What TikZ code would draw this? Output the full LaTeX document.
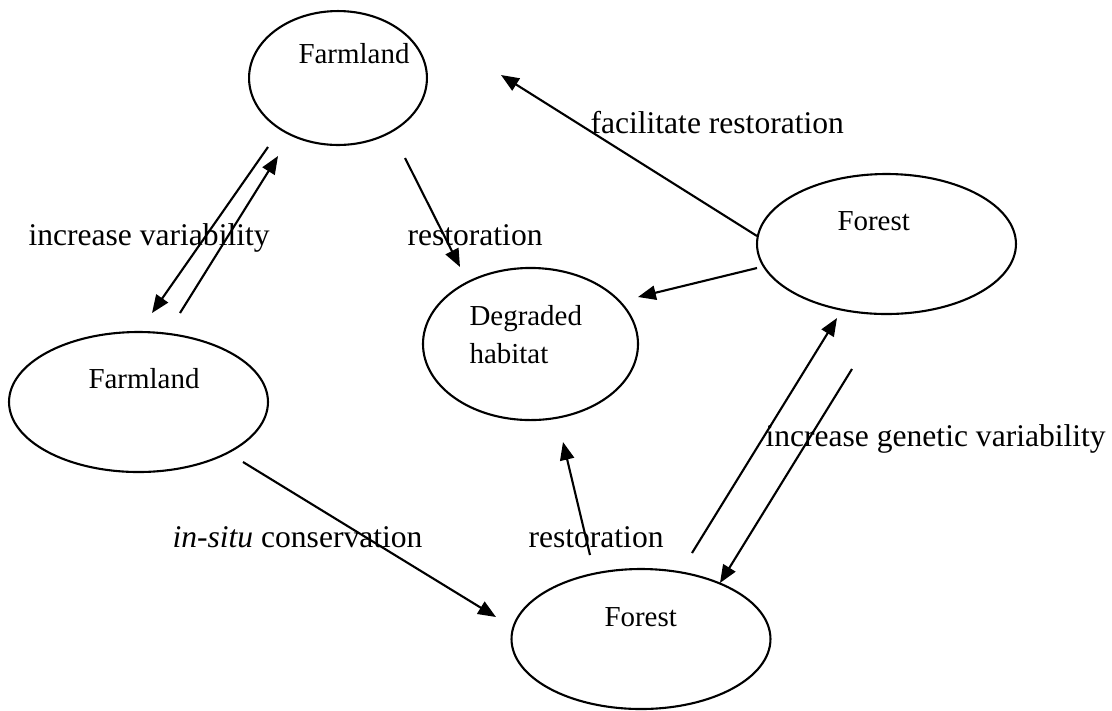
\documentclass[tikz,border=0pt]{standalone}
\usepackage{fontspec}
\setmainfont{Liberation Serif}
\usetikzlibrary{shapes, arrows.meta}

\begin{document}
\begin{tikzpicture}[
        x=0.38pt, y=-0.38pt,
        habitat/.style={draw, ellipse, line width=0.8pt, inner sep=0pt, outer sep=0pt},
        habtext/.style={inner sep=0pt, anchor=base west, align=left, font=\fontsize{11}{14.4}\selectfont},
        lbl/.style={inner sep=0pt, anchor=base west, font=\fontsize{12}{14}\selectfont},
        arrow/.style={-{Triangle[length=6.8pt, width=5.4pt]}, line width=0.8pt}
    ]
        \useasboundingbox (0,0) rectangle (1112,710);

        % Habitats
        \node[habitat, minimum width=67.6pt, minimum height=50.9pt] (farmA) at (338,78) {};
        \node[habitat, minimum width=98.4pt, minimum height=53.2pt] (farmB) at (138.5,402) {};
        \node[habitat, minimum width=81.7pt, minimum height=57.8pt] (degraded) at (530.5,344) {};
        \node[habitat, minimum width=98.4pt, minimum height=53.2pt] (forestA) at (886.5,244) {};
        \node[habitat, minimum width=98.4pt, minimum height=53.2pt] (forestB) at (641,639) {};

        \node[habtext] (farmA-txt) at (298,63) {Farmland};
        \node[habtext] (farmB-txt) at (88,388) {Farmland};
        \node[habtext] (degraded-txt) at (469,363) {Degraded\\habitat};
        \node[habtext] (forestA-txt) at (837,230) {Forest};
        \node[habtext] (forestB-txt) at (604,626) {Forest};

        % Arrows
        % Between the two farmlands
        \draw[arrow] ([shift={(-70,69)}]farmA.center) -- ([shift={(13.5,-89)}]farmB.center);
        \draw[arrow] ([shift={(41.5,-89)}]farmB.center) -- ([shift={(-60,78)}]farmA.center);

        % Towards the degraded habitat
        \draw[arrow] ([shift={(67,80)}]farmA.center) -- ([shift={(-70.5,-77)}]degraded.center);
        \draw[arrow] ([shift={(-129.5,24)}]forestA.center) -- ([shift={(107.5,-47)}]degraded.center);
        \draw[arrow] ([shift={(-51,-84)}]forestB.center) -- ([shift={(32.5,98)}]degraded.center);

        % Forest back to farmland
        \draw[arrow] ([shift={(-129.5,-8)}]forestA.center) -- ([shift={(163,-3)}]farmA.center);

        % Farmland to forest
        \draw[arrow] ([shift={(104.5,60)}]farmB.center) -- ([shift={(-145,-22)}]forestB.center);

        % Between the two forests
        \draw[arrow] ([shift={(51,-86)}]forestB.center) -- ([shift={(-49.5,74)}]forestA.center);
        \draw[arrow] ([shift={(-34.5,125)}]forestA.center) -- ([shift={(79,-56)}]forestB.center);

        % Labels
        \node[lbl] (lbl-var) at (28,245) {increase variability};
        \node[lbl] (lbl-rest1) at (407,245) {restoration};
        \node[lbl] (lbl-fac) at (590,133) {facilitate restoration};
        \node[lbl] (lbl-gen) at (765,446) {increase genetic variability};
        \node[lbl, anchor=base east] (lbl-insitu) at (423,547) {\textit{in-situ} conservation};
        \node[lbl] (lbl-rest2) at (528,547) {restoration};
    \end{tikzpicture}
\end{document}
